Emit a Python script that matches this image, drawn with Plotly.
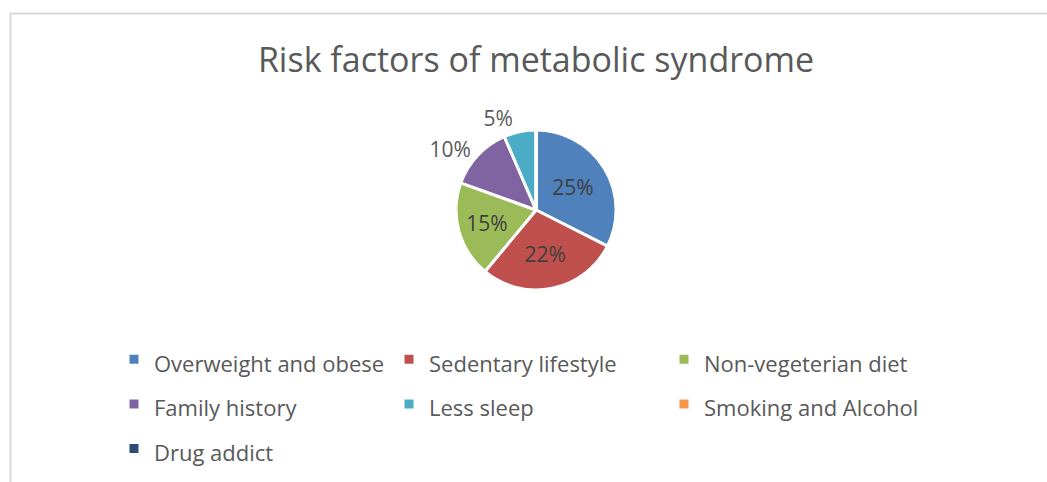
import plotly.graph_objects as go

# Risk factor categories and their shares (%)
factors = [
    "Overweight and obese",
    "Sedentary lifestyle",
    "Non-vegeterian diet",
    "Family history",
    "Less sleep",
    "Smoking and Alcohol",
    "Drug addict",
]
shares = [25, 22, 15, 10, 5, 0, 0]
slice_colors = ["#4F81BD", "#C0504D", "#9BBB59", "#8064A2", "#4BACC6", "#F79646", "#2C4D75"]
label_positions = ["inside", "inside", "inside", "outside", "outside", "outside", "outside"]

W, H = 1047, 482
FONT = "Open Sans"
GREY = "#595959"

# Zero-share slices are not drawn, so they get no label either
slice_text = ["%{value}%" if v > 0 else "" for v in shares]
# Legend entries: visible text at 22px; the legend's own (larger) font size sets the row pitch
legend_labels = [f"<span style='font-size:22px'>{f}</span>" for f in factors]

fig = go.Figure(
    go.Pie(
        labels=legend_labels,
        values=shares,
        sort=False,
        direction="clockwise",
        rotation=0,
        marker=dict(colors=slice_colors, line=dict(color="white", width=3)),
        texttemplate=slice_text,
        textposition=label_positions,
        insidetextorientation="horizontal",
        textfont=dict(family=FONT, size=21, color="#404040"),
        outsidetextfont=dict(family=FONT, size=21, color=GREY),
        domain=dict(x=[0.30, 0.724], y=[1 - 290 / H, 1 - 130 / H]),
        showlegend=True,
        hoverinfo="percent+value",
    )
)

fig.update_layout(
    width=W,
    height=H,
    margin=dict(l=0, r=0, t=0, b=0),
    paper_bgcolor="white",
    plot_bgcolor="white",
    title=dict(
        text="Risk factors of metabolic syndrome",
        x=536 / W,
        xanchor="center",
        y=1 - 60 / H,
        yanchor="middle",
        font=dict(family=FONT, size=34, color=GREY),
    ),
    legend=dict(
        orientation="h",
        x=114 / W,
        xanchor="left",
        y=1 - 332 / H,
        yanchor="top",
        entrywidth=230,
        entrywidthmode="pixels",
        font=dict(family=FONT, size=32, color=GREY),
        bgcolor="rgba(0,0,0,0)",
        traceorder="normal",
    ),
    shapes=[
        dict(
            type="path",
            xref="paper",
            yref="paper",
            path=f"M {10.5 / W},0 L {10.5 / W},{1 - 13.5 / H} L 1,{1 - 13.5 / H}",
            line=dict(color="#D9D9D9", width=2),
        )
    ],
)

fig.write_html("out.html")
